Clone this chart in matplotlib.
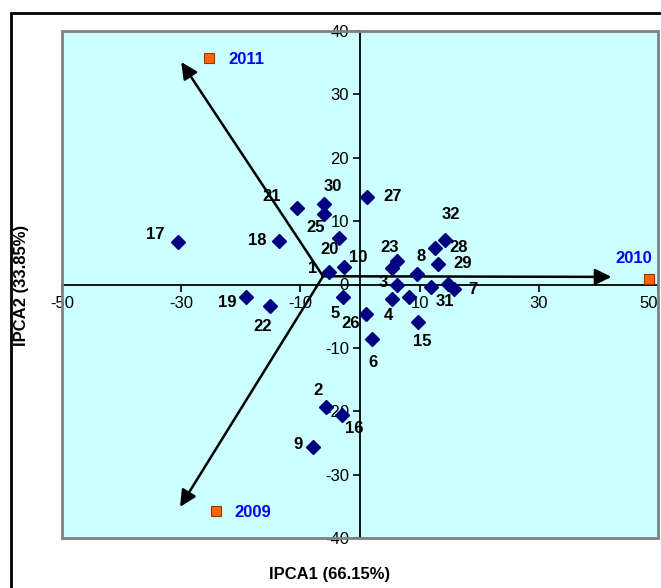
import matplotlib
matplotlib.use("Agg")
import matplotlib.pyplot as plt
from matplotlib.patches import Rectangle

plt.rcParams['font.family'] = ['Liberation Sans', 'DejaVu Sans']
plt.rcParams['axes.unicode_minus'] = False

# genotype scores
pt_labels = ['17', '18', '21', '30', '25', '20', '1', '10', '5', '19', '22', '27', '26', '6', '23',
             '', '3', '4', '', '15', '8', '32', '28', '29', '31', '', '7', '2', '16', '9']
pc1 = [-30.5, -13.6, -10.6, -6.0, -6.0, -3.5, -5.2, -2.7, -2.9, -19.1, -15.1, 1.2, 1.0, 2.0, 6.2,
       5.4, 6.2, 5.4, 8.2, 9.7, 9.6, 14.3, 12.6, 13.1, 11.9, 14.8, 15.8, -5.7, -3.0, -7.9]
pc2 = [6.7, 6.9, 12.1, 12.7, 11.1, 7.3, 2.0, 2.8, -2.0, -2.0, -3.4, 13.8, -4.7, -8.6, 3.7,
       2.6, -0.1, -2.3, -2.0, -5.9, 1.7, 7.0, 5.8, 3.3, -0.4, 0.1, -0.7, -19.3, -20.6, -25.6]
# label offsets in pixels (dx, dy down)
lab_off = [(-23, -8), (-22, 0), (-25, -11), (9, -18), (-9, 13), (-10, 11), (-16, -3), (14, -9),
           (-8, 16), (-19, 5), (-7, 20), (25, -1), (-15, 9), (1, 23), (-7, -14), (0, 0), (-14, -3),
           (-4, 16), (0, 0), (4, 20), (4, -17), (6, -26), (24, 0), (25, 0), (14, 14), (0, 0),
           (19, 1), (-8, -16), (12, 13), (-15, -2)]

# environments
years = ['2009', '2010', '2011']
env_x = [-24.2, 48.5, -25.3]
env_y = [-35.8, 0.8, 35.7]
env_off = [(37, 1), (-15, -21), (37, 1)]

# vectors
tail = (-6.2, 1.3)
tip_x = [-30.2, 42.2, -30.0]
tip_y = [-35.1, 1.2, 35.1]

fig = plt.figure(figsize=(6.61, 5.88), dpi=100)
ax = fig.add_axes([62/661, 1-538/588, 596/661, 507/588])
ax.set_facecolor('#CCFFFF')
ax.set_xlim(-50, 50)
ax.set_ylim(-40, 40)

for s in ['top', 'right']:
    ax.spines[s].set_visible(False)
ax.spines['left'].set_position(('data', 0))
ax.spines['bottom'].set_position(('data', 0))
ax.spines['left'].set_linewidth(1.3)
ax.spines['bottom'].set_linewidth(1.3)
ax.add_patch(Rectangle((0, 0), 1, 1, transform=ax.transAxes, fill=False,
                       edgecolor='#808080', lw=2, clip_on=False, zorder=5))

ax.set_xticks([-50, -30, -10, 10, 30, 50])
ax.set_yticks(range(-40, 41, 10))
ax.tick_params(axis='both', direction='out', length=5, width=1.2, labelsize=12, pad=3)
ax.get_xticklabels()[-1].set_horizontalalignment('right')

for i in range(3):
    ax.annotate('', xy=(tip_x[i], tip_y[i]), xytext=tail,
                arrowprops=dict(arrowstyle='-|>,head_length=0.45,head_width=0.22', color='black',
                                lw=1.8, mutation_scale=22, shrinkA=0, shrinkB=0))

ax.plot(pc1, pc2, linestyle='none', marker='D', ms=7, color='#000080', zorder=4)
for x, y, t, (dx, dy) in zip(pc1, pc2, pt_labels, lab_off):
    if t:
        ax.annotate(t, (x, y), xytext=(dx, -dy), textcoords='offset pixels',
                    ha='center', va='center', fontsize=12, fontweight='bold')

ax.plot(env_x, env_y, linestyle='none', marker='s', ms=7, color='#FF6600',
        markeredgecolor='#993300', markeredgewidth=0.8, zorder=4, clip_on=False)
for x, y, t, (dx, dy) in zip(env_x, env_y, years, env_off):
    ax.annotate(t, (x, y), xytext=(dx, -dy), textcoords='offset pixels',
                ha='center', va='center', fontsize=12, fontweight='bold', color='#0000FF')

fig.text(330/661, 1-575/588, 'IPCA1 (66.15%)', ha='center', va='center',
         fontsize=12, fontweight='bold')
fig.text(22/661, 1-285/588, 'IPCA2 (33.85%)', ha='center', va='center',
         fontsize=12, fontweight='bold', rotation=90)

fig.patches.append(Rectangle((11/661, -0.1), 1.2, 1-13/588+0.1, transform=fig.transFigure,
                             fill=False, edgecolor='black', lw=2))

fig.savefig('out.png', dpi=100)
